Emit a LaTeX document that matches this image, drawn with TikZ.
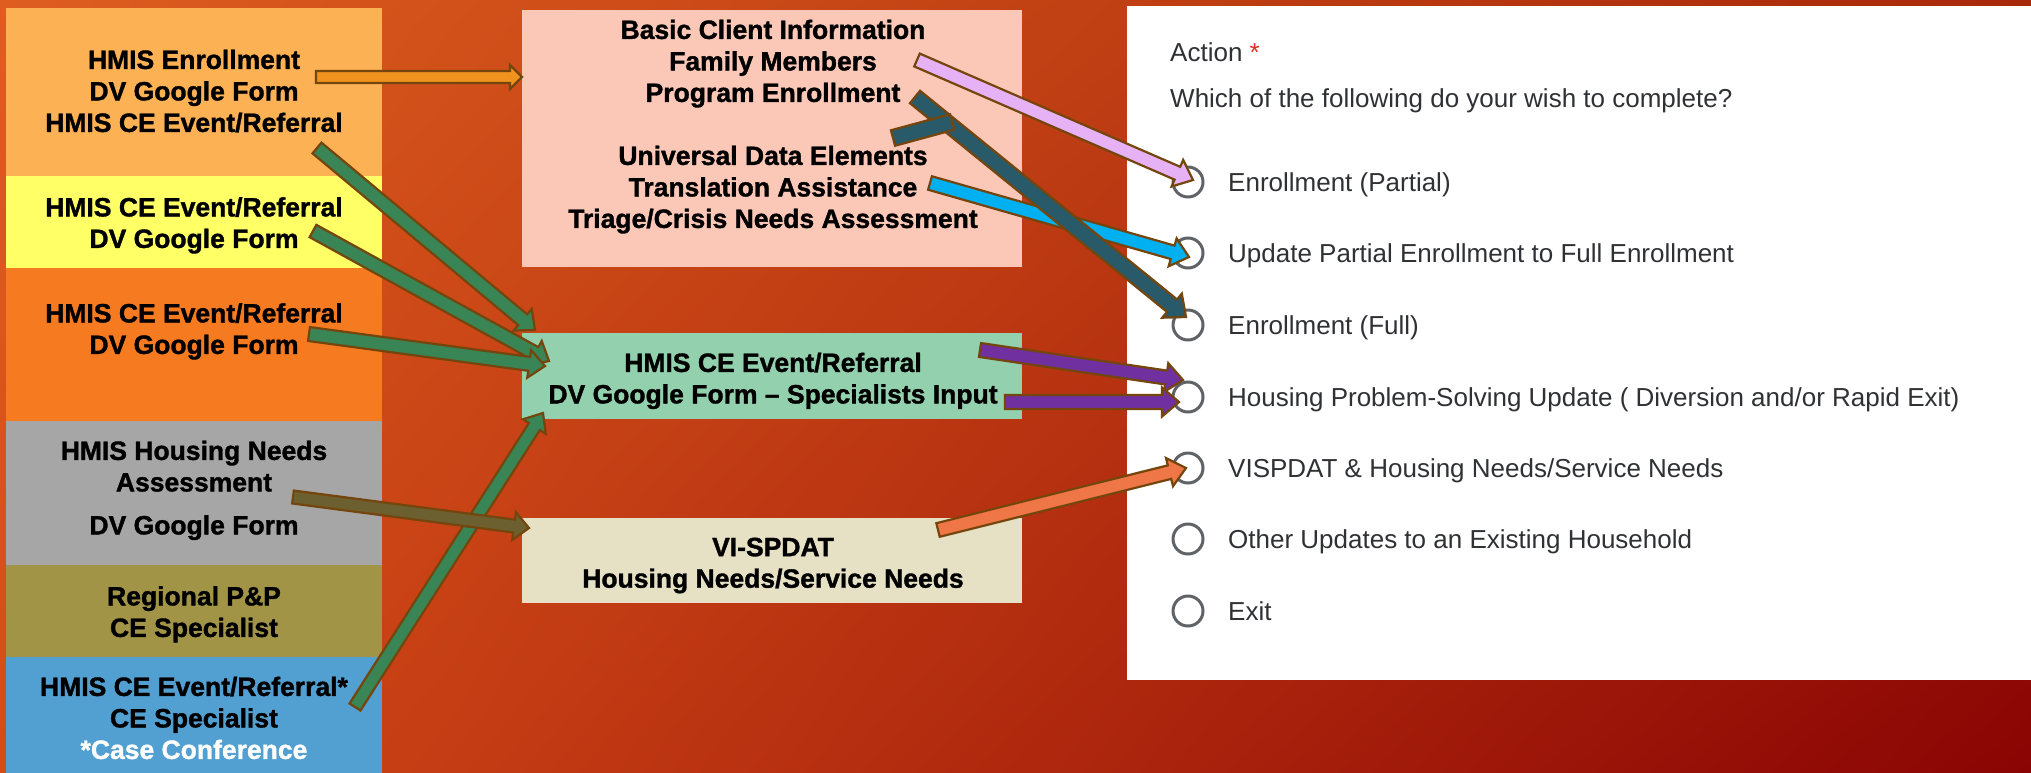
\documentclass[tikz,border=0pt]{standalone}
\usepackage{fontspec}
\setmainfont{Liberation Sans}[BoldFeatures={FakeBold=1.3}]
\usetikzlibrary{calc,shadings}
\definecolor{bgUL}{HTML}{DE5D1F}
\definecolor{bgUR}{HTML}{A8280A}
\definecolor{bgLL}{HTML}{D44C18}
\definecolor{bgLR}{HTML}{8A0404}
\definecolor{cBa}{HTML}{FDB155}
\definecolor{cBb}{HTML}{FFFF66}
\definecolor{cBc}{HTML}{F67A1F}
\definecolor{cBd}{HTML}{A6A6A6}
\definecolor{cBe}{HTML}{A29446}
\definecolor{cBf}{HTML}{529FD2}
\definecolor{cPink}{HTML}{FBC8B8}
\definecolor{cGreen}{HTML}{92D0AE}
\definecolor{cBeige}{HTML}{E6E0C5}
\definecolor{edgebrown}{HTML}{74450C}
\definecolor{aOrange}{HTML}{F0921E}
\definecolor{aGreen}{HTML}{398556}
\definecolor{aOlive}{HTML}{6C6030}
\definecolor{aLav}{HTML}{E6B2F5}
\definecolor{aBlue}{HTML}{00B0F0}
\definecolor{aTeal}{HTML}{285A69}
\definecolor{aPurple}{HTML}{7030A0}
\definecolor{aCoral}{HTML}{EF7646}
\definecolor{formtext}{HTML}{303134}
\definecolor{radiogray}{HTML}{5F6368}
\definecolor{reqred}{HTML}{D93025}
% block arrow: fill, from, to, half shaft, half head, head length
\newcommand\barrowx[6]{%
  \filldraw[arrowedge, fill=#1] let \p1=(#2), \p2=(#3),
     \n1={atan2(\y2-\y1,\x2-\x1)}, \n2={veclen(\x2-\x1,\y2-\y1)-#6} in
    ($(\p1)+(\n1+90:#4)$) -- ($(\p1)+(\n1:\n2)+(\n1+90:#4)$) --
    ($(\p1)+(\n1:\n2)+(\n1+90:#5)$) -- (\p2) --
    ($(\p1)+(\n1:\n2)+(\n1-90:#5)$) -- ($(\p1)+(\n1:\n2)+(\n1-90:#4)$) --
    ($(\p1)+(\n1-90:#4)$) -- cycle;}
\newcommand\barrow[3]{\barrowx{#1}{#2}{#3}{7pt}{14.5pt}{17pt}}
\newcommand\bbar[4]{%
  \filldraw[arrowedge, fill=#1] let \p1=(#2), \p2=(#3),
     \n1={atan2(\y2-\y1,\x2-\x1)} in
    ($(\p1)+(\n1+90:#4)$) -- ($(\p2)+(\n1+90:#4)$) --
    ($(\p2)+(\n1-90:#4)$) -- ($(\p1)+(\n1-90:#4)$) -- cycle;}
\begin{document}
\begin{tikzpicture}[x=1pt,y=1pt,
  box/.style={inner sep=0, outer sep=0, anchor=north west},
  lbl/.style={inner sep=0, anchor=north, align=center, font=\fontsize{26.5}{31.5}\selectfont\bfseries},
  arrowedge/.style={draw=edgebrown, line width=2.2pt, line join=miter},
  item/.style={anchor=base west, inner sep=0, text=formtext, font=\fontsize{26}{30}\selectfont},
  radiob/.style={circle, draw=radiogray, line width=3pt, minimum size=30pt, inner sep=0}]
\useasboundingbox (0,0) rectangle (2031,-772);
\shade[upper left=bgUL, upper right=bgUR, lower left=bgLL, lower right=bgLR] (0,0) rectangle (2031,-772);

% left column
\node[box, fill=cBa, minimum width=376pt, minimum height=168pt] (b1) at (6,-8) {};
\node[box, fill=cBb, minimum width=376pt, minimum height=92pt] (b2) at (6,-176) {};
\node[box, fill=cBc, minimum width=376pt, minimum height=153pt] (b3) at (6,-268) {};
\node[box, fill=cBd, minimum width=376pt, minimum height=144pt] (b4) at (6,-421) {};
\node[box, fill=cBe, minimum width=376pt, minimum height=92pt] (b5) at (6,-565) {};
\node[box, fill=cBf, minimum width=376pt, minimum height=116pt] (b6) at (6,-657) {};

\node[lbl] (t1) at (194,-49.5) {HMIS Enrollment\\DV Google Form\\HMIS CE Event/Referral};
\node[lbl] (t2) at (194,-197) {HMIS CE Event/Referral\\DV Google Form};
\node[lbl] (t3) at (194,-303) {HMIS CE Event/Referral\\DV Google Form};
\node[lbl] (t4) at (194,-440.5) {HMIS Housing Needs\\Assessment\\[11.5pt]DV Google Form};
\node[lbl] (t5) at (194,-586) {Regional P\&P\\CE Specialist};
\node[lbl] (t6) at (194,-676.5) {HMIS CE Event/Referral*\\CE Specialist\\\textcolor{white}{*Case Conference}};

% middle column
\node[box, fill=cPink, minimum width=500pt, minimum height=257pt] (pk) at (522,-10) {};
\node[box, fill=cGreen, minimum width=500pt, minimum height=86pt] (gr) at (522,-333) {};
\node[box, fill=cBeige, minimum width=500pt, minimum height=85pt] (be) at (522,-518) {};
\node[lbl] (tp) at (773,-19.5) {Basic Client Information\\Family Members\\Program Enrollment\\[31.5pt]Universal Data Elements\\Translation Assistance\\Triage/Crisis Needs Assessment};
\node[lbl] (tg) at (773,-352.5) {HMIS CE Event/Referral\\DV Google Form -- Specialists Input};
\node[lbl] (tb) at (773,-537.5) {VI-SPDAT\\Housing Needs/Service Needs};

% form panel
\node[box, fill=white, minimum width=904pt, minimum height=674pt] (panel) at (1127,-6) {};
\node[item] (act) at (1170,-61) {Action \textcolor{reqred}{*}};
\node[item] (q) at (1170,-107) {Which of the following do your wish to complete?};
\foreach \i/\y/\t in {1/182/{Enrollment (Partial)}, 2/253/{Update Partial Enrollment to Full Enrollment}, 3/325/{Enrollment (Full)}, 4/397/{Housing Problem-Solving Update ( Diversion and/or Rapid Exit)}, 5/468/{VISPDAT \& Housing Needs/Service Needs}, 6/539/{Other Updates to an Existing Household}, 7/611/{Exit}} {
  \node[radiob] (r\i) at (1188,-\y) {};
  \node[item] (o\i) at (1228,-\y-9) {\t};
}

% connector end points
\coordinate (oS) at (316,-77);  \coordinate (oE) at (522,-77);
\coordinate (g1S) at (317,-148); \coordinate (g1E) at (535,-330);
\coordinate (g2S) at (313,-231); \coordinate (g2E) at (549,-361);
\coordinate (g3S) at (309,-334); \coordinate (g3E) at (545,-366);
\coordinate (g4S) at (355,-707); \coordinate (g4E) at (543,-413);
\coordinate (olS) at (293,-497); \coordinate (olE) at (529,-528);
\coordinate (lvS) at (917,-60);  \coordinate (lvE) at (1193,-180);
\coordinate (blS) at (930,-183); \coordinate (blE) at (1189,-257);
\coordinate (tlS) at (915,-97); \coordinate (tlE) at (1186,-317);
\coordinate (stS) at (893,-138); \coordinate (stE) at (952,-122);
\coordinate (paS) at (980,-350); \coordinate (paE) at (1183,-380);
\coordinate (pbS) at (1005,-402); \coordinate (pbE) at (1179,-402);
\coordinate (coS) at (938,-530); \coordinate (coE) at (1186,-468);

\barrowx{aOrange}{oS}{oE}{6pt}{12pt}{12pt}
\barrowx{aGreen}{g1S}{g1E}{7pt}{14pt}{16pt}
\barrowx{aGreen}{g2S}{g2E}{7pt}{14pt}{16pt}
\barrowx{aGreen}{g3S}{g3E}{7pt}{14pt}{16pt}
\barrowx{aGreen}{g4S}{g4E}{6.5pt}{13.5pt}{16pt}
\barrowx{aOlive}{olS}{olE}{6.5pt}{14pt}{15pt}
\barrow{aLav}{lvS}{lvE}
\barrow{aBlue}{blS}{blE}
\barrowx{aTeal}{tlS}{tlE}{8pt}{15.5pt}{18pt}
\bbar{aTeal}{stS}{stE}{8pt}
\barrow{aPurple}{paS}{paE}
\barrow{aPurple}{pbS}{pbE}
\barrow{aCoral}{coS}{coE}
\end{tikzpicture}
\end{document}
